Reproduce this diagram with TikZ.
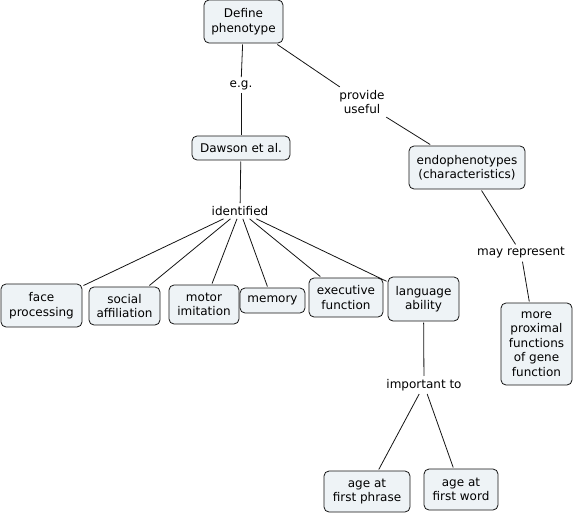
\documentclass[tikz,border=0pt]{standalone}
\usepackage{fontspec}
\setmainfont{DejaVu Sans}
\usepackage{tikz}
\usetikzlibrary{positioning}
\definecolor{boxfill}{RGB}{238,243,246}
\definecolor{boxline}{RGB}{20,20,20}

\begin{document}
\begin{tikzpicture}[x=1pt, y=-1pt,
  font=\fontsize{12}{14.5}\selectfont,
  concept/.style={draw=boxline, fill=boxfill, line width=0.8pt, rounded corners=5pt, align=center, inner sep=2pt, outer sep=1.5pt},
  linkword/.style={align=center, inner sep=3pt},
  link/.style={draw=boxline, line width=0.8pt}]
\useasboundingbox (0,0) rectangle (573,514);

\node [concept, minimum width=79pt, minimum height=43pt] (define) at (243.5,21.5) {Define\\phenotype};
\node [linkword] (eg) at (241,85) {e.g.};
\node [linkword] (provide) at (362,102) {provide\\useful};
\node [concept, minimum width=98pt, minimum height=24pt] (dawson) at (241,148) {Dawson et al.};
\node [concept, minimum width=116pt, minimum height=43pt] (endo) at (467,167.5) {endophenotypes\\(characteristics)};

\node [linkword] (identified) at (240,211) {identified};
\node [linkword] (mayrep) at (521,253) {may represent};

\node [concept, minimum width=81pt, minimum height=43pt] (face) at (41.5,305.5) {face\\processing};
\node [concept, minimum width=71pt, minimum height=38pt] (social) at (124.5,306) {social\\affiliation};
\node [concept, minimum width=70pt, minimum height=39pt] (motor) at (204,304.5) {motor\\imitation};
\node [concept, minimum width=65pt, minimum height=25pt] (memory) at (272.5,300.5) {memory};
\node [concept, minimum width=74pt, minimum height=39pt] (exec) at (346,297.5) {executive\\function};
\node [concept, minimum width=71pt, minimum height=44pt] (lang) at (423.5,299) {language\\ability};
\node [concept, minimum width=71pt, minimum height=82pt] (proximal) at (536.5,344) {more\\proximal\\functions\\of gene\\function};

\node [linkword] (important) at (424,385) {important to};
\node [concept, minimum width=86pt, minimum height=41pt] (phrase) at (367,491.5) {age at\\first phrase};
\node [concept, minimum width=74pt, minimum height=41pt] (word) at (461,489.5) {age at\\first word};

% links
\draw [link] (define) -- (eg);
\draw [link] (eg) -- (dawson);
\draw [link] (define) -- (provide);
\draw [link] (provide) -- (endo);
\draw [link] (dawson) -- (identified);
\foreach \target in {face, social, motor, memory, exec, lang}
  \draw [link] (identified) -- (\target);
\draw [link] (endo) -- (mayrep);
\draw [link] (mayrep) -- (proximal);
\draw [link] (lang) -- (important);
\draw [link] (important) -- (phrase);
\draw [link] (important) -- (word);
\end{tikzpicture}
\end{document}
